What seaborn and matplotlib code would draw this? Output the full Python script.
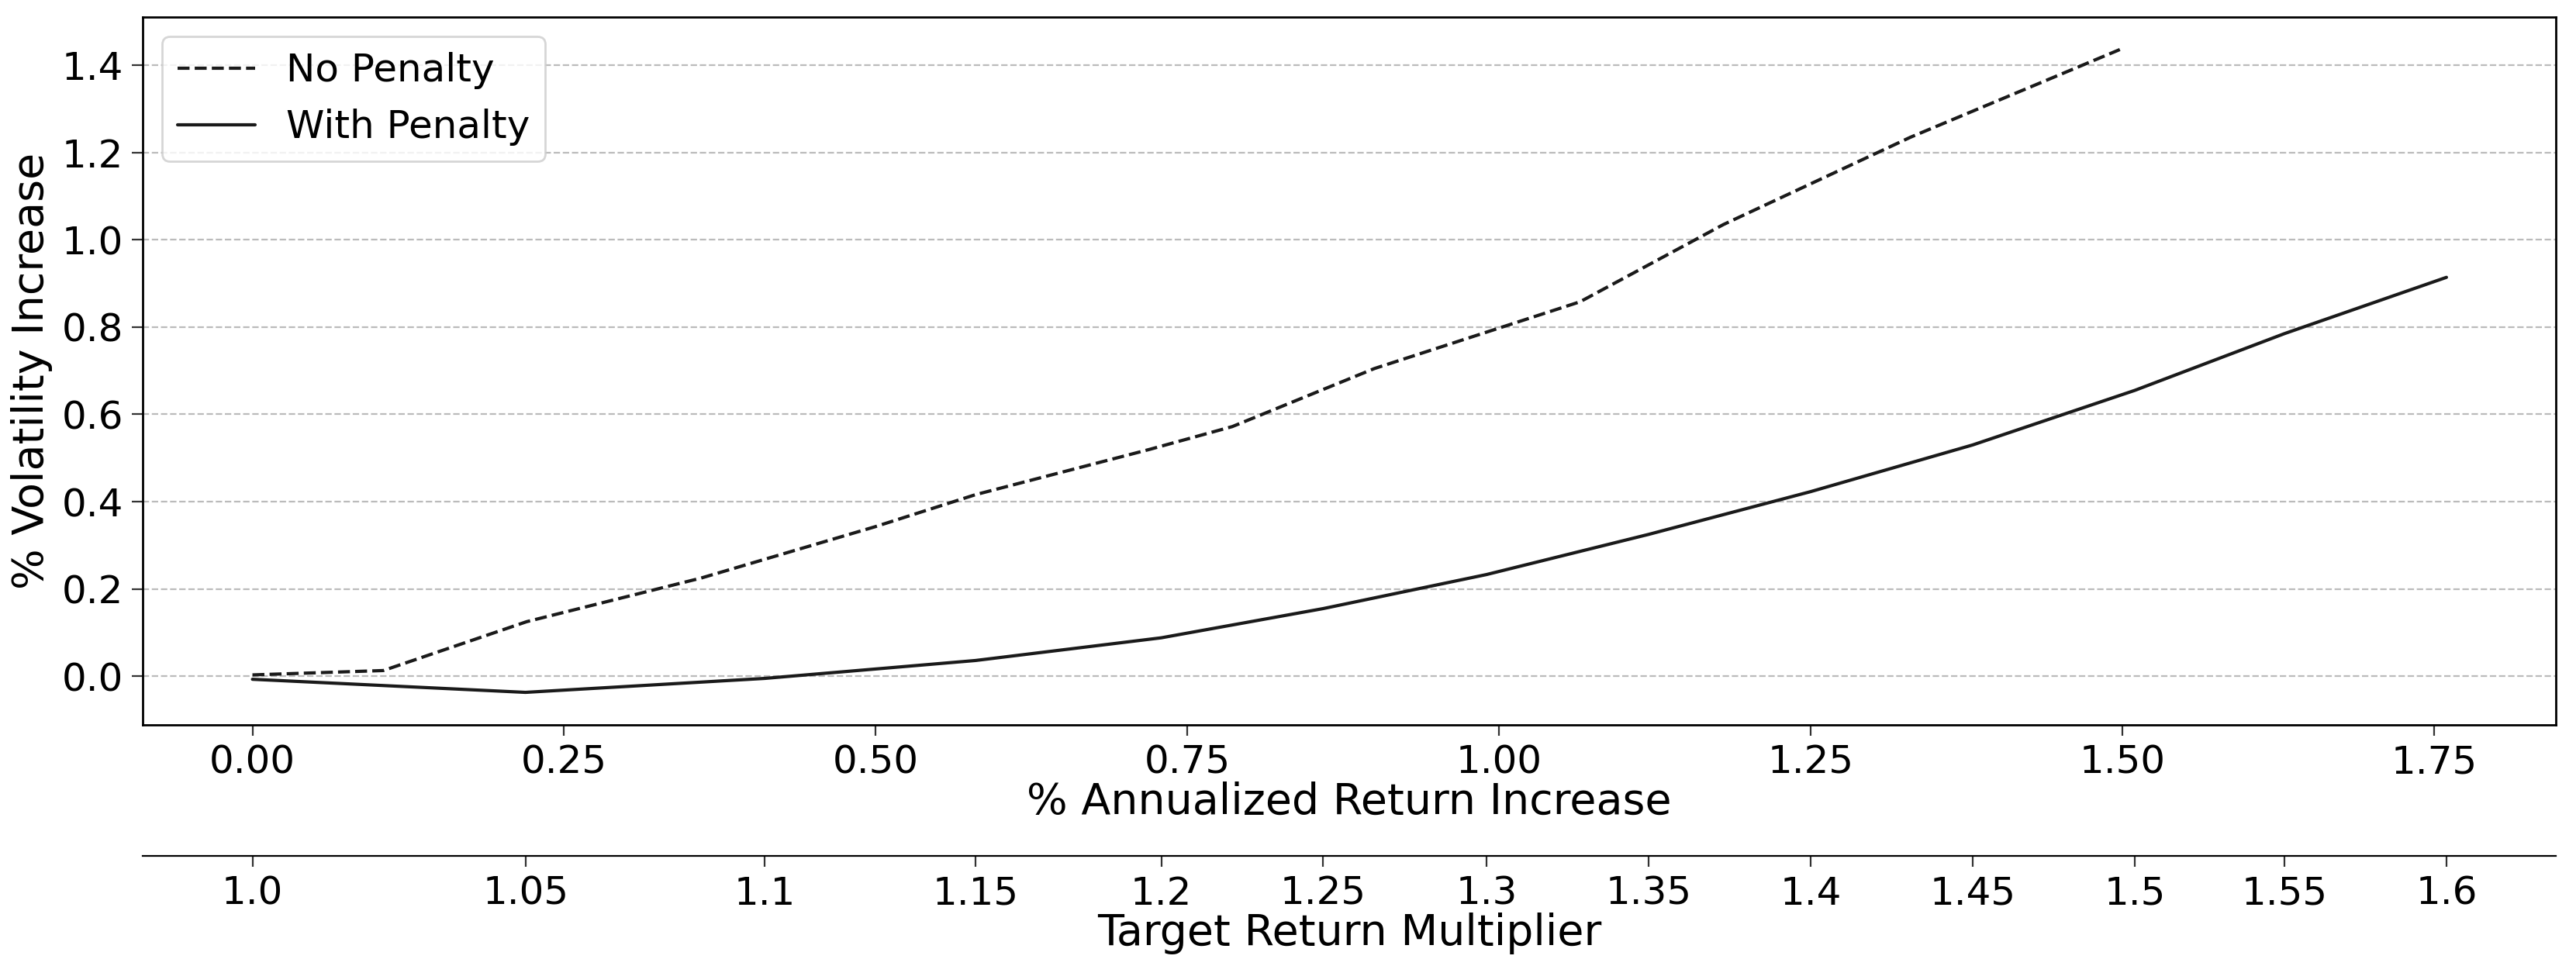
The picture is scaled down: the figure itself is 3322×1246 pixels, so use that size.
import matplotlib
matplotlib.use("Agg")
import matplotlib.pyplot as plt
import seaborn as sns

# multiplicateurs cibles et rendement obtenu (avec penalite)
multipliers = ["1.0", "1.05", "1.1", "1.15", "1.2", "1.25", "1.3",
               "1.35", "1.4", "1.45", "1.5", "1.55", "1.6"]
ret_penalty = [0.0, 0.219, 0.411, 0.580, 0.729, 0.859, 0.990,
               1.120, 1.250, 1.380, 1.510, 1.630, 1.760]
vol_penalty = [-0.007, -0.037, -0.005, 0.036, 0.088, 0.155, 0.233,
               0.325, 0.423, 0.530, 0.655, 0.785, 0.914]

# sans penalite
ret_nopen = [0.0, 0.105, 0.220, 0.360, 0.500, 0.580, 0.720,
             0.786, 0.900, 1.065, 1.180, 1.330, 1.498]
vol_nopen = [0.003, 0.013, 0.125, 0.225, 0.343, 0.416, 0.520,
             0.572, 0.705, 0.858, 1.035, 1.235, 1.436]

sns.set_style("ticks", {"text.color": "black", "axes.labelcolor": "black",
                        "xtick.color": "black", "ytick.color": "black"})
plt.rcParams["font.family"] = ["DejaVu Sans"]

fig = plt.figure(figsize=(16.615, 6.23), dpi=200)
ax = fig.add_axes([0.0554, 0.250, 0.9366, 0.732])

sns.lineplot(x=ret_nopen, y=vol_nopen, ax=ax, color="#1a1a1a",
             linestyle="--", linewidth=1.5, label="No Penalty")
sns.lineplot(x=ret_penalty, y=vol_penalty, ax=ax, color="#1a1a1a",
             linewidth=1.5, label="With Penalty")

ax.yaxis.grid(True, linestyle="--", color="#bbbbbb", linewidth=0.8)
ax.set_axisbelow(True)
for s in ax.spines.values():
    s.set_color("black")
    s.set_linewidth(1.0)
ax.tick_params(labelsize=18, length=5, color="#333333", labelcolor="black", pad=4)
ax.set_xlabel("% Annualized Return Increase", fontsize=20, labelpad=0)
ax.set_ylabel("% Volatility Increase", fontsize=20, labelpad=4)
ax.set_xticks([0.0, 0.25, 0.5, 0.75, 1.0, 1.25, 1.5, 1.75])
ax.set_yticks([0.0, 0.2, 0.4, 0.6, 0.8, 1.0, 1.2, 1.4])
ax.legend(loc="upper left", fontsize=18, frameon=True, handlelength=2.0)

# deuxieme axe x pour les multiplicateurs
ax2 = ax.twiny()
ax2.set_xlim(ax.get_xlim())
ax2.xaxis.set_ticks_position("bottom")
ax2.xaxis.set_label_position("bottom")
ax2.spines["bottom"].set_position(("outward", 61))
for side in ["top", "left", "right"]:
    ax2.spines[side].set_visible(False)
ax2.spines["bottom"].set_color("black")
ax2.set_xticks(ret_penalty)
ax2.set_xticklabels(multipliers)
ax2.tick_params(labelsize=18, length=5, color="#333333", labelcolor="black", pad=4)
ax2.set_xlabel("Target Return Multiplier", fontsize=20, labelpad=0)

fig.savefig("out.png", dpi=200)
